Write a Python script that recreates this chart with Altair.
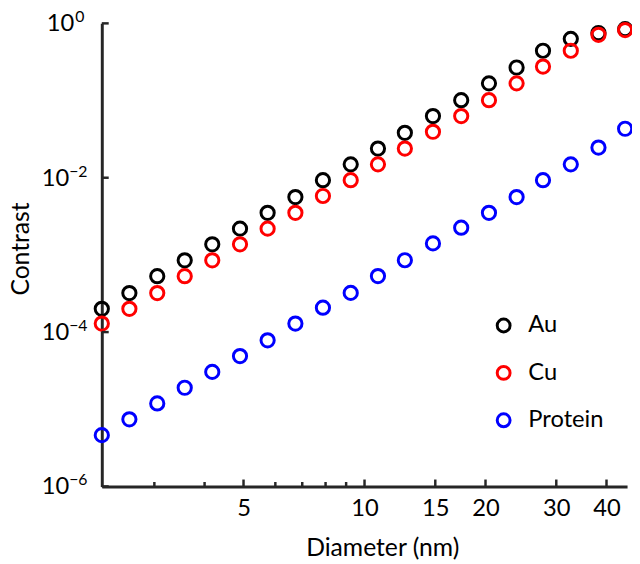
import altair as alt
import pandas as pd

diameter = [2.22, 2.60, 3.05, 3.57, 4.18, 4.90, 5.74, 6.73, 7.88, 9.24,
            10.8, 12.6, 14.8, 17.4, 20.4, 23.9, 27.8, 32.6, 38.2, 44.5]
au = [2.0e-4, 3.2e-4, 5.3e-4, 8.5e-4, 1.37e-3, 2.19e-3, 3.51e-3, 5.62e-3, 9.3e-3, 1.49e-2,
      2.39e-2, 3.82e-2, 6.3e-2, 0.101, 0.167, 0.268, 0.442, 0.63, 0.75, 0.84]
cu = [1.29e-4, 2.0e-4, 3.2e-4, 5.3e-4, 8.5e-4, 1.37e-3, 2.19e-3, 3.51e-3, 5.8e-3, 9.3e-3,
      1.49e-2, 2.39e-2, 3.94e-2, 6.3e-2, 0.101, 0.167, 0.276, 0.442, 0.71, 0.82]
protein = [4.62e-6, 7.4e-6, 1.19e-5, 1.9e-5, 3.05e-5, 4.89e-5, 7.83e-5, 1.29e-4, 2.07e-4, 3.22e-4,
           5.32e-4, 8.53e-4, 1.41e-3, 2.25e-3, 3.51e-3, 5.62e-3, 9.29e-3, 1.49e-2, 2.46e-2, 4.31e-2]
materials = ["Au", "Cu", "Protein"]
colors = ["#000000", "#ff0000", "#0000ff"]

x_major = [5, 10, 15, 20, 30, 40]
x_minor = [3, 4, 6, 7, 8, 9]
y_major = [1, 1e-2, 1e-4, 1e-6]
y_exp = ["0", "\u22122", "\u22124", "\u22126"]

rows = []
for name, vals in zip(materials, [au, cu, protein]):
    for d, c in zip(diameter, vals):
        rows.append({"d": d, "c": c, "material": name})
df = pd.DataFrame(rows)

xs = alt.Scale(type="log", domain=[2.22, 45], nice=False)
ys = alt.Scale(type="log", domain=[1e-6, 1], nice=False)
FONT = "Lato"
AX = "#262626"

x_axis = alt.Axis(values=x_major, format="d", title="Diameter (nm)", labelFontSize=24, labelPadding=10,
                  titleFontSize=25, titleFontWeight="normal", titleBaseline="alphabetic", titleY=70, titleX=284,
                  titleColor="#000", labelColor="#000")
y_axis = alt.Axis(labels=False, values=y_major, title="Contrast", titleFontSize=25, titleFontWeight="normal",
                  titleBaseline="alphabetic", titleX=-74, titleY=228, titleColor="#000")

X = alt.X("d:Q", scale=xs, axis=x_axis)
Y = alt.Y("c:Q", scale=ys, axis=y_axis)

points = alt.Chart(df).mark_point(shape="circle", filled=False, size=180, strokeWidth=3, opacity=1).encode(
    x=X, y=Y,
    color=alt.Color("material:N", scale=alt.Scale(domain=materials, range=colors),
                    legend=alt.Legend(title=None, orient="none", legendX=395, legendY=294,
                                      symbolType="circle", symbolSize=170, symbolStrokeWidth=3,
                                      labelFontSize=24, labelFont=FONT, labelColor="#000",
                                      labelOffset=13, rowPadding=22, padding=0)),
)

dfxM = pd.DataFrame({"d": x_major})
dfxm = pd.DataFrame({"d": x_minor})
dfy = pd.DataFrame({"c": y_major, "e": y_exp})

xtick_major = alt.Chart(dfxM).mark_rule(color=AX, strokeWidth=2.5).encode(
    x=X, y=alt.value(469), y2=alt.value(462))
xtick_minor = alt.Chart(dfxm).mark_rule(color=AX, strokeWidth=2.5).encode(
    x=X, y=alt.value(469), y2=alt.value(464.5))
ytick = alt.Chart(dfy).mark_rule(color=AX, strokeWidth=2.5).encode(
    y=Y, x=alt.value(0), x2=alt.value(7))

base_top = alt.Chart(dfy).transform_filter("datum.c == 1").mark_text(
    text="10", align="right", baseline="alphabetic", dy=8, fontSize=24, font=FONT, color="#000").encode(
    y=Y, x=alt.value(-28))
exp_top = alt.Chart(dfy).transform_filter("datum.c == 1").mark_text(
    align="left", baseline="alphabetic", dy=-1, fontSize=16, font=FONT, color="#000").encode(
    y=Y, x=alt.value(-27), text="e:N")
base_rest = alt.Chart(dfy).transform_filter("datum.c < 1").mark_text(
    text="10", align="right", baseline="alphabetic", dy=8, fontSize=24, font=FONT, color="#000").encode(
    y=Y, x=alt.value(-33))
exp_rest = alt.Chart(dfy).transform_filter("datum.c < 1").mark_text(
    align="left", baseline="alphabetic", dy=-1, fontSize=16, font=FONT, color="#000").encode(
    y=Y, x=alt.value(-33), text="e:N")

chart = alt.layer(points, xtick_major, xtick_minor, ytick, base_top, exp_top, base_rest, exp_rest).properties(
    width=532, height=469,
    autosize=alt.AutoSizeParams(type="none"),
    padding={"left": 95, "top": 12, "right": 5, "bottom": 76},
).configure(font=FONT).configure_view(stroke=None).configure_axis(
    domainColor=AX, domainWidth=3, ticks=False, grid=False, labelFont=FONT, titleFont=FONT
)

chart.save("out.html", embed_options={"renderer": "svg", "actions": False})
